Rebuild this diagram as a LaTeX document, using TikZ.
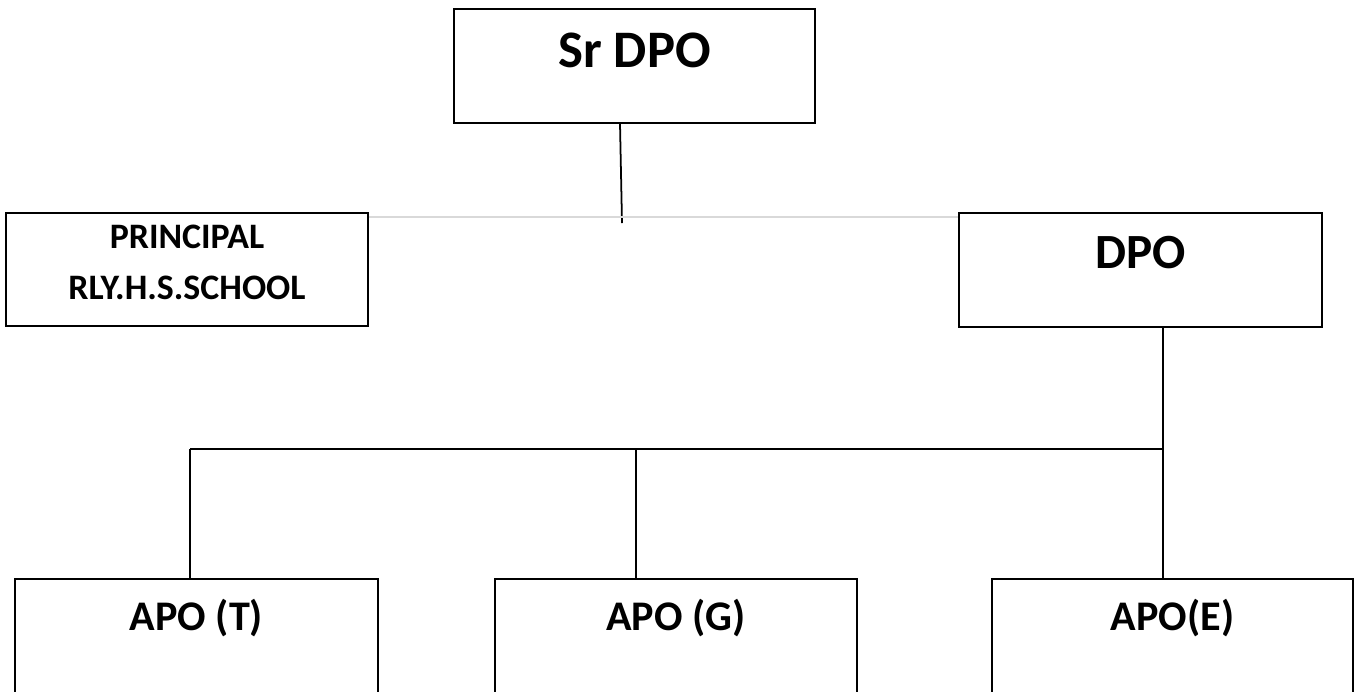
\documentclass[tikz,border=0pt]{standalone}
\usepackage{fontspec}
\setmainfont{Carlito}
\tikzset{
  postbox/.style={draw, line width=1pt, rectangle, inner sep=0pt, font=\bfseries},
  link/.style={line width=1pt},
  faint/.style={draw=black!15, line width=0.8pt}
}
\begin{document}
\begin{tikzpicture}[x=0.02cm, y=-0.02cm]
      \useasboundingbox (0,0) rectangle (1354,691);
      \clip (0,0) rectangle (1354,691);
      \node[postbox, anchor=north, minimum width=361*0.02cm,
        text height=1.18cm, text depth=1.1cm, font=\bfseries\fontsize{30}{36}\selectfont]
        (srdpo) at (634.5,8) {Sr DPO};
      \node[postbox, anchor=north, minimum width=362*0.02cm,
        text height=0.71cm, text depth=1.55cm, font=\bfseries\fontsize{20.4}{29}\selectfont]
        (principal) at (187,212)
        {\begin{tabular}[t]{@{}c@{}}PRINCIPAL\\RLY.H.S.SCHOOL\end{tabular}};
      \node[postbox, anchor=north, minimum width=363*0.02cm,
        text height=1.12cm, text depth=1.16cm, font=\bfseries\fontsize{28}{34}\selectfont]
        (dpo) at (1140.5,212) {DPO};
      \node[postbox, anchor=north, minimum width=363*0.02cm,
        text height=1.04cm, text depth=1.8cm, font=\bfseries\fontsize{24}{29}\selectfont]
        (apot) at (196.5,578) {APO (T)};
      \node[postbox, anchor=north, minimum width=362*0.02cm,
        text height=1.04cm, text depth=1.8cm, font=\bfseries\fontsize{24}{29}\selectfont]
        (apog) at (676,578) {APO (G)};
      \node[postbox, anchor=north, minimum width=361*0.02cm,
        text height=1.04cm, text depth=1.8cm, font=\bfseries\fontsize{24}{29}\selectfont]
        (apoe) at (1172.5,578) {APO(E)};
      \coordinate (drop) at (622,223);
      \coordinate (tie) at (622,217);
      \coordinate (busW) at (190,449);
      \coordinate (busM) at (636,449);
      \coordinate (busE) at (1163,449);
      \begin{scope}[link]
        \draw (srdpo.south -| 620,0) to (drop);
        \draw[faint] (principal.east |- tie) to (dpo.west |- tie);
        \draw (dpo.south -| busE) to (apoe.north -| busE);
        \draw (busW) to (busE);
        \draw (busW) to (apot.north -| busW);
        \draw (busM) to (apog.north -| busM);
      \end{scope}
    \end{tikzpicture}
\end{document}
